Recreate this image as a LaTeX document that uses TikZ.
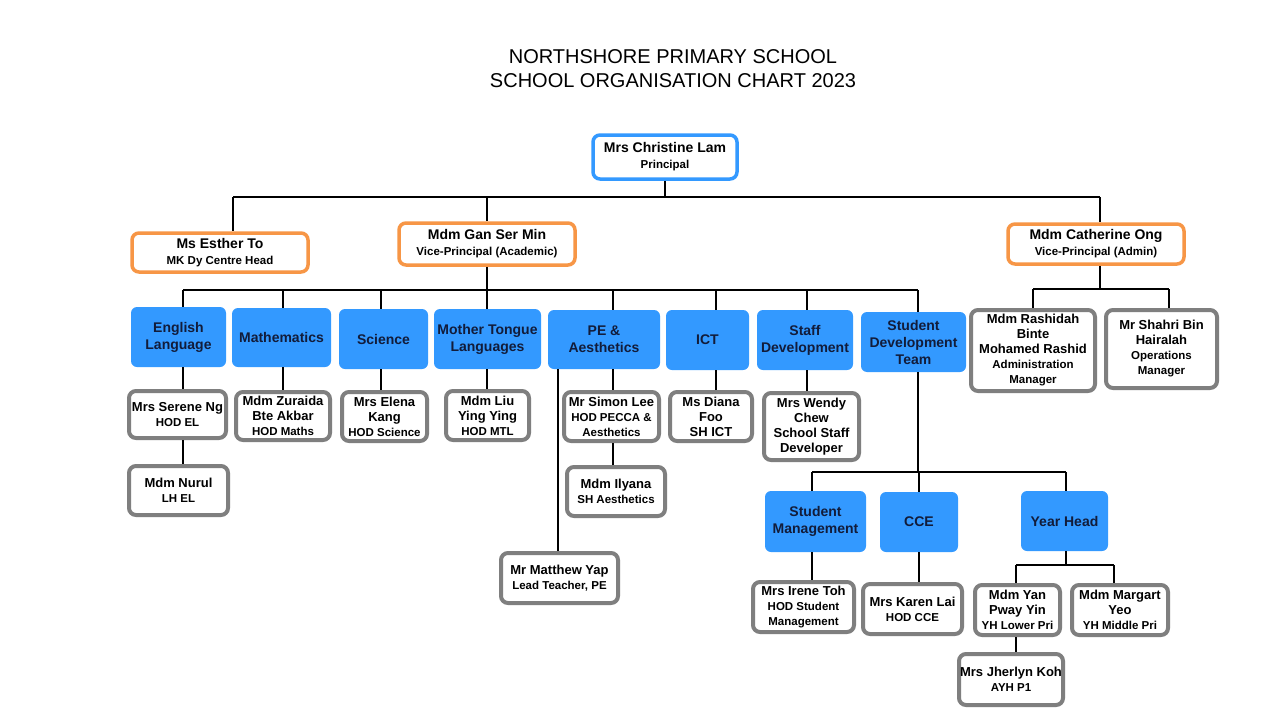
\documentclass[tikz,border=0pt]{standalone}
\usepackage{fontspec}
\setmainfont{Liberation Sans}
\definecolor{bfill}{RGB}{51,153,255}
\definecolor{oline}{RGB}{247,150,70}
\definecolor{gline}{RGB}{127,127,127}
\definecolor{navy}{RGB}{18,28,58}
\newcommand{\rolefont}{\fontsize{11.5}{14}\selectfont}
\newcommand{\namefont}{\fontsize{13}{15}\selectfont}
\newcommand{\topfont}{\fontsize{14}{16}\selectfont}
\newcommand{\subjfont}{\fontsize{14}{17}\selectfont}
\begin{document}
\begin{tikzpicture}[x=1pt,y=-1pt,
  wh/.style 2 args={minimum width=#1pt, minimum height=#2pt},
  box/.style={rounded corners=7pt, align=center, inner sep=1pt, font=\bfseries\namefont},
  pbox/.style={box, draw=bfill, line width=3.5pt, fill=white, font=\bfseries\topfont},
  obox/.style={box, draw=oline, line width=3.5pt, fill=white, font=\bfseries\topfont},
  dbox/.style={box, fill=bfill, text=navy, rounded corners=6pt, font=\bfseries\subjfont},
  sbox/.style={box, draw=gline, line width=4pt, fill=white},
  conn/.style={line width=2pt, black}]
\useasboundingbox[fill=white] (0,0) rectangle (1280,720);

% title
\node[align=center, font=\fontsize{20}{24}\selectfont] (title) at (673,69)
  {NORTHSHORE PRIMARY SCHOOL\\SCHOOL ORGANISATION CHART 2023};

% top level
\node[pbox, wh={144}{44}] (prin) at (665,157) {Mrs Christine Lam\\\rolefont Principal};
\node[obox, wh={176}{39}] (esther) at (220,252.5) {Ms Esther To\\\rolefont MK Dy Centre Head};
\node[obox, wh={176}{42}] (gan) at (487,244) {Mdm Gan Ser Min\\\rolefont Vice-Principal (Academic)};
\node[obox, wh={176}{40}] (cath) at (1096,244) {Mdm Catherine Ong\\\rolefont Vice-Principal (Admin)};

% subjects
\node[dbox, wh={95}{60}] (eng) at (178.5,337) {English\\Language};
\node[dbox, wh={99}{59}] (math) at (281.5,337.5) {Mathematics};
\node[dbox, wh={89}{60}] (sci) at (383.5,339) {Science};
\node[dbox, wh={107}{60}] (mtl) at (487.5,339) {Mother Tongue\\Languages};
\node[dbox, wh={112}{59}] (pe) at (604,339.5) {PE \&\\Aesthetics};
\node[dbox, wh={83}{60}] (ict) at (707.5,340) {ICT};
\node[dbox, wh={96}{60}] (staffdev) at (805,340) {Staff\\Development};
\node[dbox, wh={105}{60}] (sdt) at (913.5,342) {Student\\Development\\Team};
\node[dbox, wh={101}{61}] (stumgmt) at (815.5,521.5) {Student\\Management};
\node[dbox, wh={78}{60}] (cce) at (919,522) {CCE};
\node[dbox, wh={87}{60}] (yearhead) at (1064.5,521) {Year Head};

% staff
\node[sbox, wh={97}{47}] (serene) at (177.5,414.5) {Mrs Serene Ng\\\rolefont HOD EL};
\node[sbox, wh={94}{48}] (zuraida) at (283,416) {Mdm Zuraida\\Bte Akbar\\\rolefont HOD Maths};
\node[sbox, wh={85}{49}] (elena) at (384.5,416.5) {Mrs Elena\\Kang\\\rolefont HOD Science};
\node[sbox, wh={83}{49}] (liu) at (487.5,415.5) {Mdm Liu\\Ying Ying\\\rolefont HOD MTL};
\node[sbox, wh={95}{49}] (simon) at (611.5,416.5) {Mr Simon Lee\\\rolefont HOD PECCA \&\\\rolefont Aesthetics};
\node[sbox, wh={82}{49}] (diana) at (711,416.5) {Ms Diana\\Foo\\SH ICT};
\node[sbox, wh={95}{67}] (wendy) at (811.5,426.5) {Mrs Wendy\\Chew\\School Staff\\Developer};
\node[sbox, wh={99}{49}] (nurul) at (178.5,490.5) {Mdm Nurul\\\rolefont LH EL};
\node[sbox, wh={98}{49}] (ilyana) at (616,491.5) {Mdm Ilyana\\\rolefont SH Aesthetics};
\node[sbox, wh={117}{50}] (matthew) at (559.5,578) {Mr Matthew Yap\\\rolefont Lead Teacher, PE};
\node[sbox, wh={101}{50}] (irene) at (803.5,607) {Mrs Irene Toh\\\rolefont HOD Student\\\rolefont Management};
\node[sbox, wh={99}{50}] (karen) at (912.5,609) {Mrs Karen Lai\\\rolefont HOD CCE};
\node[sbox, wh={85}{50}] (yan) at (1017.5,610) {Mdm Yan\\Pway Yin\\\rolefont YH Lower Pri};
\node[sbox, wh={96}{50}] (margart) at (1120,610) {Mdm Margart\\Yeo\\\rolefont YH Middle Pri};
\node[sbox, wh={104}{51}] (jherlyn) at (1011,679.5) {Mrs Jherlyn Koh\\\rolefont AYH P1};
\node[sbox, wh={124}{81}] (rashidah) at (1033,350.5) {Mdm Rashidah\\Binte\\Mohamed Rashid\\\rolefont Administration\\\rolefont Manager};
\node[sbox, wh={111}{78}] (shahri) at (1161.5,349) {Mr Shahri Bin\\Hairalah\\\rolefont Operations\\\rolefont Manager};

% bus junctions
\coordinate (jE) at (233,197);
\coordinate (jG) at (487,197);
\coordinate (jP) at (665,197);
\coordinate (jC) at (1100,197);
\coordinate (a1) at (183,290);
\coordinate (a2) at (283,290);
\coordinate (a3) at (381,290);
\coordinate (a4) at (487,290);
\coordinate (a5) at (613,290);
\coordinate (a6) at (716,290);
\coordinate (a7) at (807,290);
\coordinate (a8) at (918,290);
\coordinate (c1) at (1033,289);
\coordinate (c0) at (1100,289);
\coordinate (c2) at (1169,289);
\coordinate (s1) at (812,472);
\coordinate (s0) at (918,472);
\coordinate (s2) at (919,472);
\coordinate (s3) at (1066,472);
\coordinate (y1) at (1016,565);
\coordinate (y0) at (1066,565);
\coordinate (y2) at (1114,565);
\coordinate (pm) at (558,369);

% top bus
\draw[conn] (jE) -- (jC);
\draw[conn] (prin.south) -- (jP);
\draw[conn] (jE) -- (esther.north -| jE);
\draw[conn] (jG) -- (gan.north);
\draw[conn] (jC) -- (cath.north -| jC);

% academic bus
\draw[conn] (gan.south) -- (a4);
\draw[conn] (a1) -- (a8);
\draw[conn] (a1) -- (eng.north -| a1);
\draw[conn] (a2) -- (math.north -| a2);
\draw[conn] (a3) -- (sci.north -| a3);
\draw[conn] (a4) -- (mtl.north -| a4);
\draw[conn] (a5) -- (pe.north -| a5);
\draw[conn] (a6) -- (ict.north -| a6);
\draw[conn] (a7) -- (staffdev.north -| a7);
\draw[conn] (a8) -- (sdt.north -| a8);

\draw[conn] (eng.south -| a1) -- (serene.north -| a1);
\draw[conn] (serene.south -| a1) -- (nurul.north -| a1);
\draw[conn] (math.south -| a2) -- (zuraida.north -| a2);
\draw[conn] (sci.south -| a3) -- (elena.north -| a3);
\draw[conn] (mtl.south -| a4) -- (liu.north -| a4);
\draw[conn] (pe.south -| a5) -- (simon.north -| a5);
\draw[conn] (simon.south -| a5) -- (ilyana.north -| a5);
\draw[conn] (pe.south -| pm) -- (matthew.north -| pm);
\draw[conn] (ict.south -| a6) -- (diana.north -| a6);
\draw[conn] (staffdev.south -| a7) -- (wendy.north -| a7);

% student development
\draw[conn] (sdt.south -| s0) -- (s0);
\draw[conn] (s1) -- (s3);
\draw[conn] (s1) -- (stumgmt.north -| s1);
\draw[conn] (s2) -- (cce.north -| s2);
\draw[conn] (s3) -- (yearhead.north -| s3);
\draw[conn] (stumgmt.south -| s1) -- (irene.north -| s1);
\draw[conn] (cce.south -| s2) -- (karen.north -| s2);
\draw[conn] (yearhead.south -| y0) -- (y0);
\draw[conn] (y1) -- (y2);
\draw[conn] (y1) -- (yan.north -| y1);
\draw[conn] (y2) -- (margart.north -| y2);
\draw[conn] (yan.south -| y1) -- (jherlyn.north -| y1);

% admin
\draw[conn] (cath.south -| c0) -- (c0);
\draw[conn] (c1) -- (c2);
\draw[conn] (c1) -- (rashidah.north -| c1);
\draw[conn] (c2) -- (shahri.north -| c2);
\end{tikzpicture}
\end{document}
